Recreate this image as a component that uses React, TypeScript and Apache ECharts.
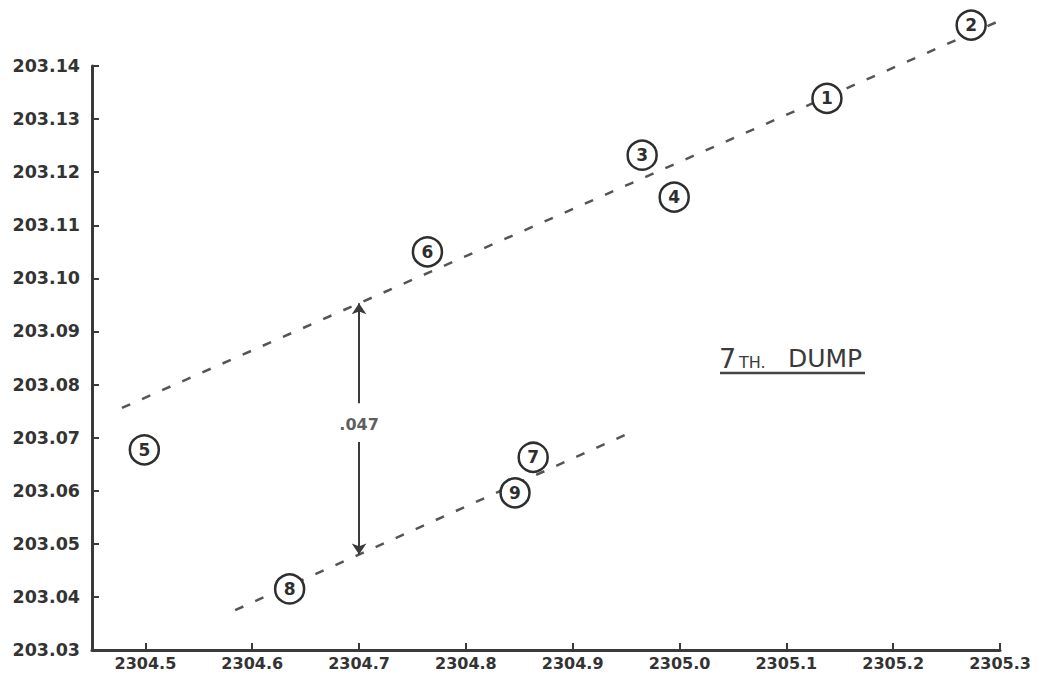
import React, { useEffect, useRef } from "react";
import * as echarts from "echarts";

const xTicks = [2304.5, 2304.6, 2304.7, 2304.8, 2304.9, 2305.0, 2305.1, 2305.2, 2305.3];
const yTicks = [203.03, 203.04, 203.05, 203.06, 203.07, 203.08, 203.09, 203.1, 203.11, 203.12, 203.13, 203.14];

const pointLabels = ["1", "2", "3", "4", "5", "6", "7", "8", "9"];
const pointX = [2305.138, 2305.273, 2304.965, 2304.995, 2304.499, 2304.764, 2304.863, 2304.635, 2304.846];
const pointY = [203.1339, 203.1477, 203.1232, 203.1153, 203.0677, 203.105, 203.0663, 203.0415, 203.0596];

const upperLineX = [2304.478, 2305.322];
const upperLineY = [203.0756, 203.1505];
const lowerLineX = [2304.584, 2304.949];
const lowerLineY = [203.0375, 203.0705];

const arrowX = 2304.7;
const arrowTop = 203.0953;
const arrowBottom = 203.048;
const gapTop = 203.0765;
const gapBottom = 203.0692;
const gapLabel = ".047";
const gapLabelY = 203.0724;

const ink = "#3a3a3a";
const font = "DejaVu Sans";

export default function App() {
  const ref = useRef<HTMLDivElement>(null);
  useEffect(() => {
    document.body.style.margin = "0";
    const chart = echarts.init(ref.current!, null, { renderer: "svg" });
    const points = pointLabels.map((l, i) => ({ value: [pointX[i], pointY[i]], name: l }));
    chart.setOption({
      animation: false,
      backgroundColor: "#ffffff",
      grid: { left: 92, right: 42, top: 66, bottom: 36 },
      xAxis: {
        type: "value",
        min: 2304.45,
        max: 2305.3,
        splitLine: { show: false },
        axisLine: { show: true, lineStyle: { color: ink, width: 3 } },
        axisTick: { show: true, inside: true, length: 7, customValues: xTicks, lineStyle: { color: ink, width: 2 } },
        axisLabel: {
          customValues: xTicks,
          formatter: (v: number) => v.toFixed(1),
          color: "#333",
          fontFamily: font,
          fontWeight: "bold",
          fontSize: 16,
          margin: 5,
        },
      },
      yAxis: {
        type: "value",
        min: 203.03,
        max: 203.14,
        splitLine: { show: false },
        axisLine: { show: true, lineStyle: { color: ink, width: 3 } },
        axisTick: { show: true, inside: true, length: 7, customValues: yTicks, lineStyle: { color: ink, width: 2 } },
        axisLabel: {
          customValues: yTicks,
          formatter: (v: number) => v.toFixed(2),
          color: "#333",
          fontFamily: font,
          fontWeight: "bold",
          fontSize: 17.5,
          margin: 12,
        },
      },
      graphic: [
        { type: "text", left: 719, top: 345, style: { text: "7", fontSize: 27, fontFamily: font, fill: "#3a3a3a" } },
        { type: "text", left: 739, top: 354, style: { text: "TH.", fontSize: 16, fontFamily: font, fill: "#3a3a3a" } },
        { type: "text", left: 788, top: 346, style: { text: "DUMP", fontSize: 25, fontFamily: font, fill: "#3a3a3a" } },
        { type: "line", shape: { x1: 720, y1: 373, x2: 865, y2: 373 }, style: { stroke: "#444", lineWidth: 2.5 } },
      ],
      series: [
        {
          type: "line",
          data: upperLineX.map((x, i) => [x, upperLineY[i]]),
          showSymbol: false,
          clip: false,
          silent: true,
          lineStyle: { color: "#555", width: 2.5, type: [9, 13] },
          z: 1,
        },
        {
          type: "line",
          data: lowerLineX.map((x, i) => [x, lowerLineY[i]]),
          showSymbol: false,
          clip: false,
          silent: true,
          lineStyle: { color: "#555", width: 2.5, type: [9, 13] },
          z: 1,
        },
        {
          type: "line",
          data: [],
          silent: true,
          markLine: {
            silent: true,
            symbol: ["none", "arrow"],
            symbolSize: 11,
            label: { show: false },
            lineStyle: { color: ink, width: 2, type: "solid" },
            data: [
              [{ coord: [arrowX, gapTop] }, { coord: [arrowX, arrowTop] }],
              [{ coord: [arrowX, gapBottom] }, { coord: [arrowX, arrowBottom] }],
            ],
          },
        },
        {
          type: "scatter",
          data: [[arrowX, gapLabelY]],
          symbolSize: 0,
          silent: true,
          label: {
            show: true,
            position: "inside",
            formatter: () => gapLabel,
            color: "#333",
            fontFamily: font,
            fontWeight: "bold",
            fontSize: 16,
          },
        },
        {
          type: "scatter",
          data: points,
          clip: false,
          symbol: "circle",
          symbolSize: 29,
          itemStyle: { color: "#ffffff", borderColor: "#2e2e2e", borderWidth: 2.5, opacity: 1 },
          label: {
            show: true,
            position: "inside",
            formatter: (p: any) => p.name,
            color: "#2e2e2e",
            fontFamily: font,
            fontWeight: "bold",
            fontSize: 17,
          },
          z: 5,
        },
      ],
    });
    return () => chart.dispose();
  }, []);
  return <div ref={ref} style={{ width: 1042, height: 686 }} />;
}
